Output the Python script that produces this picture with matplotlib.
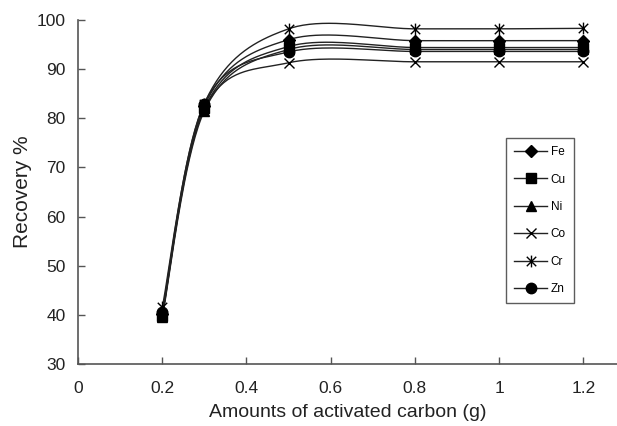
import numpy as np
import matplotlib
matplotlib.use("Agg")
import matplotlib.pyplot as plt
from matplotlib.path import Path

plt.rcParams['font.family'] = ['Liberation Sans', 'DejaVu Sans']

# Data
carbon = [0.2, 0.3, 0.5, 0.8, 1.0, 1.2]
metals = ["Fe", "Cu", "Ni", "Co", "Cr", "Zn"]
fe = [40.2, 82.5, 96.0, 95.8, 95.8, 95.8]
cu = [39.8, 82.0, 94.6, 94.4, 94.4, 94.4]
ni = [39.5, 81.5, 94.0, 94.0, 94.0, 94.0]
co = [40.0, 82.0, 91.3, 91.5, 91.5, 91.5]
cr = [41.5, 83.0, 98.2, 98.2, 98.2, 98.3]
zn = [40.5, 83.0, 93.5, 93.6, 93.6, 93.6]
series = [fe, cu, ni, co, cr, zn]

x_ticks = [0, 0.2, 0.4, 0.6, 0.8, 1, 1.2]
x_ticklabels = ["0", "0.2", "0.4", "0.6", "0.8", "1", "1.2"]
y_ticks = [30, 40, 50, 60, 70, 80, 90, 100]

star = Path([(-1, -1), (1, 1), (-1, 1), (1, -1), (0, -1.25), (0, 1.25)],
            [Path.MOVETO, Path.LINETO, Path.MOVETO, Path.LINETO, Path.MOVETO, Path.LINETO])
markers = ["D", "s", "^", "x", star, "o"]
msizes = [6, 6.5, 7, 7.5, 8.5, 7.5]


def smooth(xs, ys, n=40):
    P = np.column_stack([xs, ys]).astype(float)
    P = np.vstack([P[0], P, P[-1]])
    out = []
    for i in range(1, len(P) - 2):
        p0, p1, p2, p3 = P[i - 1], P[i], P[i + 1], P[i + 2]
        c1 = p1 + (p2 - p0) / 6.0
        c2 = p2 - (p3 - p1) / 6.0
        t = np.linspace(0, 1, n)[:, None]
        seg = ((1 - t) ** 3) * p1 + 3 * ((1 - t) ** 2) * t * c1 + 3 * (1 - t) * t ** 2 * c2 + t ** 3 * p2
        out.append(seg if i == 1 else seg[1:])
    out = np.vstack(out)
    return out[:, 0], out[:, 1]


fig = plt.figure(figsize=(6.17, 4.26), dpi=100)
ax = fig.add_axes([78 / 617, 62 / 426, 539 / 617, 344 / 426])

for name, ys, m, ms in zip(metals, series, markers, msizes):
    sx, sy = smooth(carbon, ys)
    ax.plot(sx, sy, color="#222222", lw=1.0, zorder=2)
    ax.plot(carbon, ys, linestyle="none", marker=m, ms=ms, color="black",
            mec="black", mew=1.0, zorder=3)
    ax.plot([], [], color="#222222", lw=1.0, marker=m, ms=ms, mec="black",
            mfc="black", mew=1.0, label=name)

ax.set_xlim(0, 1.28)
ax.set_ylim(30, 100)
ax.set_xticks(x_ticks)
ax.set_xticklabels(x_ticklabels)
ax.set_yticks(y_ticks)
for s in ["top", "right"]:
    ax.spines[s].set_visible(False)
for s in ["left", "bottom"]:
    ax.spines[s].set_color("#555555")
    ax.spines[s].set_linewidth(1.2)
ax.tick_params(direction="in", length=5, width=1, color="#555555",
               labelsize=12.5, labelcolor="#222222")
ax.tick_params(axis="x", pad=12)
ax.tick_params(axis="y", pad=9)

ax.set_ylabel("Recovery %", fontsize=15, color="#222222", labelpad=3)
ax.set_xlabel("Amounts of activated carbon (g)", fontsize=14, color="#222222", labelpad=6)

leg = ax.legend(loc="upper left", bbox_to_anchor=((506 - 78) / 539, (364 - 138) / 344),
                fontsize=8.5, frameon=True, fancybox=False, edgecolor="#333333",
                handlelength=2.8, handletextpad=0.3, labelspacing=1.3,
                borderpad=0.7, borderaxespad=0)
leg.get_frame().set_linewidth(1.0)

fig.savefig("out.png", dpi=100)
